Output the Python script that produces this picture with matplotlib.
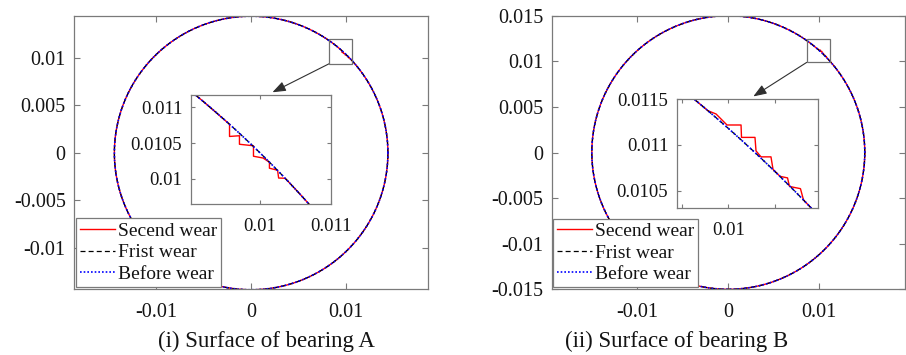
import numpy as np
import matplotlib.pyplot as plt
from matplotlib.patches import Rectangle

plt.rcParams['font.family'] = ['Liberation Serif', 'DejaVu Serif']
plt.rcParams['axes.unicode_minus'] = False

# Nominal bearing radii, m
radius_a = 0.0144
radius_b = 0.015

# Second-wear profile vertices inside the zoom window (x, y in m), clockwise
wear2_x_a = [0.009568, 0.009568, 0.009708, 0.009708, 0.009906, 0.009906,
             0.010042, 0.010131, 0.010131, 0.010246, 0.010261, 0.010352]
wear2_y_a = [0.010762, 0.010592, 0.010602, 0.010483, 0.010462, 0.010316,
             0.010291, 0.010232, 0.010149, 0.010121, 0.010012, 0.010009]

wear2_x_b = [0.009782, 0.009868, 0.009932, 0.009986, 0.010137, 0.010142,
             0.010287, 0.010298, 0.010352, 0.010459, 0.010481, 0.010556,
             0.010637, 0.010658, 0.010706, 0.010776, 0.010809]
wear2_y_b = [0.011372, 0.011337, 0.011272, 0.011217, 0.011217, 0.011082,
             0.011082, 0.010935, 0.010870, 0.010870, 0.010734, 0.010658,
             0.010641, 0.010549, 0.010538, 0.010524, 0.010400]

series_labels = ['Secend wear', 'Frist wear', 'Before wear']
captions = ['(i) Surface of bearing A', '(ii) Surface of bearing B']

main_xticks = [-0.01, 0, 0.01]
main_xlabels = ['-0.01', '0', '0.01']
main_yticks_a = [-0.01, -0.005, 0, 0.005, 0.01]
main_ylabels_a = ['-0.01', '-0.005', '0', '0.005', '0.01']
main_yticks_b = [-0.015, -0.01, -0.005, 0, 0.005, 0.01, 0.015]
main_ylabels_b = ['-0.015', '-0.01', '-0.005', '0', '0.005', '0.01', '0.015']

inset_xticks_a = [0.01, 0.011]
inset_xlabels_a = ['0.01', '0.011']
inset_yticks_a = [0.01, 0.0105, 0.011]
inset_ylabels_a = ['0.01', '0.0105', '0.011']
inset_xticks_b = [0.0095, 0.01, 0.0105]
inset_xlabels_b = ['', '0.01', '']
inset_yticks_b = [0.0105, 0.011, 0.0115]
inset_ylabels_b = ['0.0105', '0.011', '0.0115']

W, H = 906, 355
SPINE = '#7a7a7a'
TEXT = '#141414'


def circle(radius, n=4000):
    t = np.linspace(0, 2 * np.pi, n)
    return radius * np.cos(t), radius * np.sin(t)


def worn_profile(radius, wx, wy, n=4000):
    # nominal circle with the measured step section spliced in
    t = np.linspace(0, 2 * np.pi, n)
    t_hi = np.arctan2(wy[0], wx[0])
    t_lo = np.arctan2(wy[-1], wx[-1])
    lo = t < t_lo
    hi = t > t_hi
    x = np.concatenate([radius * np.cos(t[lo]), wx[::-1], radius * np.cos(t[hi])])
    y = np.concatenate([radius * np.sin(t[lo]), wy[::-1], radius * np.sin(t[hi])])
    return x, y


def draw_profiles(ax, radius, wx, wy):
    xc, yc = circle(radius)
    xw, yw = worn_profile(radius, np.array(wx), np.array(wy))
    ax.plot(xw, yw, color='#ff0000', lw=1.0, label=series_labels[0])
    ax.plot(xc, yc, color='black', lw=0.9, ls=(0, (4, 2.5)), label=series_labels[1])
    ax.plot(xc, yc, color='#0000ff', lw=1.2, ls=(0, (1, 1.2)), label=series_labels[2])


def style_axes(ax, size, length, xpad, ypad):
    ax.tick_params(direction='in', top=True, right=True, length=length,
                   width=0.8, color=SPINE, labelsize=size, labelcolor=TEXT)
    ax.tick_params(axis='x', pad=xpad)
    ax.tick_params(axis='y', pad=ypad)
    for s in ax.spines.values():
        s.set_color(SPINE)
        s.set_linewidth(0.9)


def px_axes(fig, left, right, top, bottom):
    return fig.add_axes([left / W, (H - bottom) / H, (right - left) / W, (bottom - top) / H])


fig = plt.figure(figsize=(W / 100, H / 100), dpi=100)

panels = [
    dict(radius=radius_a, wx=wear2_x_a, wy=wear2_y_a,
         main=(74, 428, 16, 289), xlim=(-0.01865, 0.01862), ylim=(-0.01432, 0.01442),
         yticks=main_yticks_a, ylabels=main_ylabels_a,
         inset=(190.7, 331, 95, 204), ixlim=(0.00902, 0.011), iylim=(0.00965, 0.01117),
         ixticks=inset_xticks_a, ixlabels=inset_xlabels_a,
         iyticks=inset_yticks_a, iylabels=inset_ylabels_a,
         box=(0.008242, 0.009411, 0.01063, 0.01197), tip=(0.002242, 0.006389),
         caption_xy=(266.5, 341)),
    dict(radius=radius_b, wx=wear2_x_b, wy=wear2_y_b,
         main=(551.7, 905, 15.7, 289.3), xlim=(-0.01941, 0.01942), ylim=(-0.015, 0.015),
         yticks=main_yticks_b, ylabels=main_ylabels_b,
         inset=(676.7, 818.3, 99, 208.3), ixlim=(0.009445, 0.010968), iylim=(0.01031, 0.0115),
         ixticks=inset_xticks_b, ixlabels=inset_xlabels_b,
         iyticks=inset_yticks_b, iylabels=inset_ylabels_b,
         box=(0.008615, 0.009879, 0.011176, 0.012481), tip=(0.002747, 0.006147),
         caption_xy=(676.7, 341)),
]

for k, p in enumerate(panels):
    ax = px_axes(fig, *p['main'])
    draw_profiles(ax, p['radius'], p['wx'], p['wy'])
    ax.set_xlim(p['xlim'])
    ax.set_ylim(p['ylim'])
    ax.set_xticks(main_xticks)
    ax.set_xticklabels(main_xlabels)
    ax.set_yticks(p['yticks'])
    ax.set_yticklabels(p['ylabels'])
    style_axes(ax, 14.5, 4.5, 10, 6)

    # zoom window marker and pointer to the inset
    x0, y0, x1, y1 = p['box']
    ax.add_patch(Rectangle((x0, y0), x1 - x0, y1 - y0, fill=False,
                           edgecolor='#707070', lw=0.9, zorder=5))
    ax.annotate('', xy=p['tip'], xytext=(x0, y0),
                arrowprops=dict(arrowstyle='-|>,head_length=0.8,head_width=0.3',
                                color='#303030', lw=0.8, shrinkA=0, shrinkB=0))

    leg = ax.legend(loc='lower left', bbox_to_anchor=(0.005, 0.008), borderaxespad=0,
                    fontsize=14, handlelength=1.8, handletextpad=0.15,
                    labelspacing=0.2, borderpad=0.2, fancybox=False,
                    edgecolor=SPINE, framealpha=1)
    leg.get_frame().set_linewidth(0.9)
    for t in leg.get_texts():
        t.set_color(TEXT)

    ins = px_axes(fig, *p['inset'])
    draw_profiles(ins, p['radius'], p['wx'], p['wy'])
    ins.set_xlim(p['ixlim'])
    ins.set_ylim(p['iylim'])
    ins.set_xticks(p['ixticks'])
    ins.set_xticklabels(p['ixlabels'])
    ins.set_yticks(p['iyticks'])
    ins.set_yticklabels(p['iylabels'])
    style_axes(ins, 13.5, 3, 10, 6)

    cx, cy = p['caption_xy']
    fig.text(cx / W, 1 - cy / H, captions[k], ha='center', va='center',
             fontsize=16.5, color=TEXT)

fig.savefig('out.png', dpi=100)
